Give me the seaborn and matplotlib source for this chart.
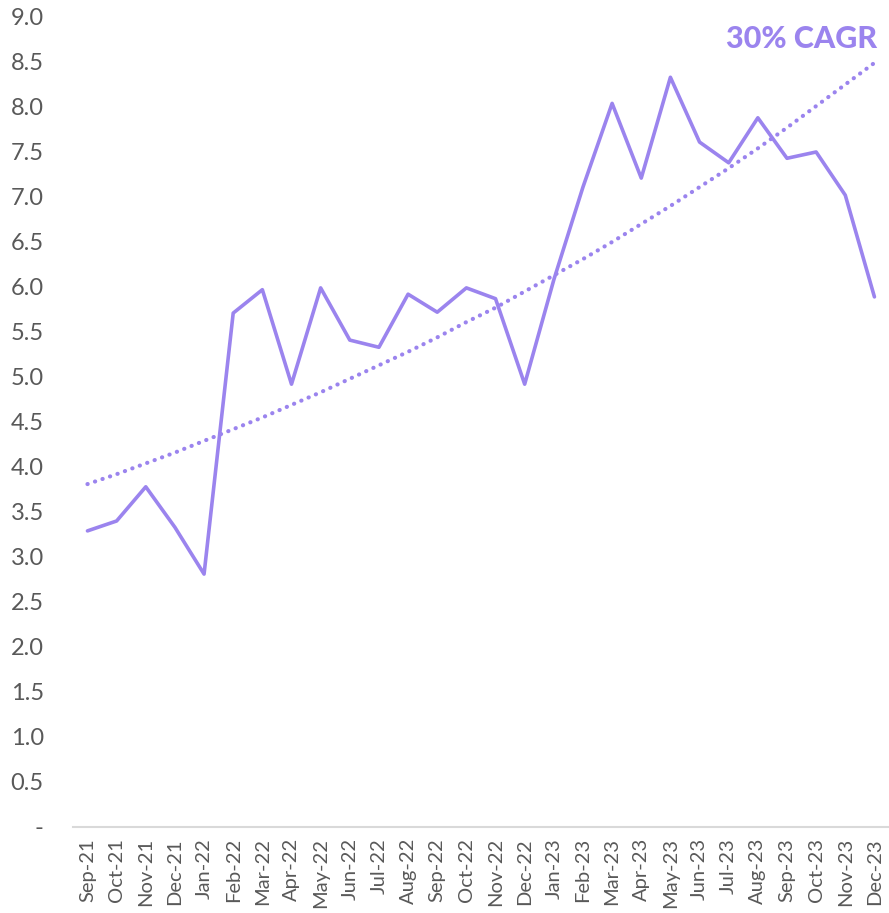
import pandas as pd
import numpy as np
import matplotlib.pyplot as plt
import seaborn as sns
from matplotlib.ticker import FuncFormatter, MultipleLocator

months = ["Sep-21", "Oct-21", "Nov-21", "Dec-21", "Jan-22", "Feb-22", "Mar-22",
          "Apr-22", "May-22", "Jun-22", "Jul-22", "Aug-22", "Sep-22", "Oct-22",
          "Nov-22", "Dec-22", "Jan-23", "Feb-23", "Mar-23", "Apr-23", "May-23",
          "Jun-23", "Jul-23", "Aug-23", "Sep-23", "Oct-23", "Nov-23", "Dec-23"]
values = [3.29, 3.40, 3.78, 3.33, 2.81, 5.71, 5.97, 4.92, 5.99, 5.41, 5.33, 5.92,
          5.72, 5.99, 5.87, 4.92, 6.08, 7.11, 8.04, 7.21, 8.33, 7.61, 7.38, 7.88,
          7.43, 7.50, 7.02, 5.89]
trend = [3.81, 3.92, 4.04, 4.16, 4.29, 4.42, 4.55, 4.69, 4.83, 4.98, 5.13, 5.28,
         5.44, 5.61, 5.77, 5.95, 6.13, 6.31, 6.50, 6.70, 6.90, 7.11, 7.32, 7.54,
         7.77, 8.01, 8.25, 8.49]
label = "30% CAGR"

purple = "#9b84ee"
grey = "#595959"

sns.set_style("white")
plt.rcParams['font.family'] = ['Lato', 'DejaVu Sans']

df = pd.DataFrame({"month": months, "value": values, "trend": trend})
df["pos"] = np.arange(len(df))

fig = plt.figure(figsize=(8.89, 9.13), dpi=100)
ax = fig.add_axes([0.082, 0.0942, 0.918, 0.8872])

sns.lineplot(data=df, x="pos", y="value", ax=ax, color=purple, linewidth=2.6)
sns.lineplot(data=df, x="pos", y="trend", ax=ax, color=purple, linewidth=3.0,
             linestyle=(0, (0.05, 1.85)))
ax.lines[-1].set_dash_capstyle("round")

ax.set_xlim(-0.5, len(months) - 0.5)
ax.set_ylim(0, 9)
ax.yaxis.set_major_locator(MultipleLocator(0.5))
ax.yaxis.set_major_formatter(FuncFormatter(lambda v, p: "-" if abs(v) < 1e-9 else f"{v:.1f}"))
ax.tick_params(axis="y", length=0, pad=21, labelsize=17, labelcolor=grey)

ax.set_xticks(df["pos"])
ax.set_xticklabels(months, rotation=90)
ax.set_xticks(np.arange(-0.5, len(months)), minor=True)
ax.tick_params(axis="x", which="major", length=0, pad=8, labelsize=14.5, labelcolor=grey)
ax.tick_params(axis="x", which="minor", length=6, width=1.5, color="#d9d9d9", direction="out")
ax.set_xlabel("")
ax.set_ylabel("")

for s in ["top", "right", "left"]:
    ax.spines[s].set_visible(False)
ax.spines["bottom"].set_color("#d9d9d9")
ax.spines["bottom"].set_linewidth(1.5)

ax.text(len(months) - 0.9, 8.75, label, ha="right", va="center",
        fontsize=22, fontweight="black", color=purple)

fig.savefig("out.png", dpi=100)
